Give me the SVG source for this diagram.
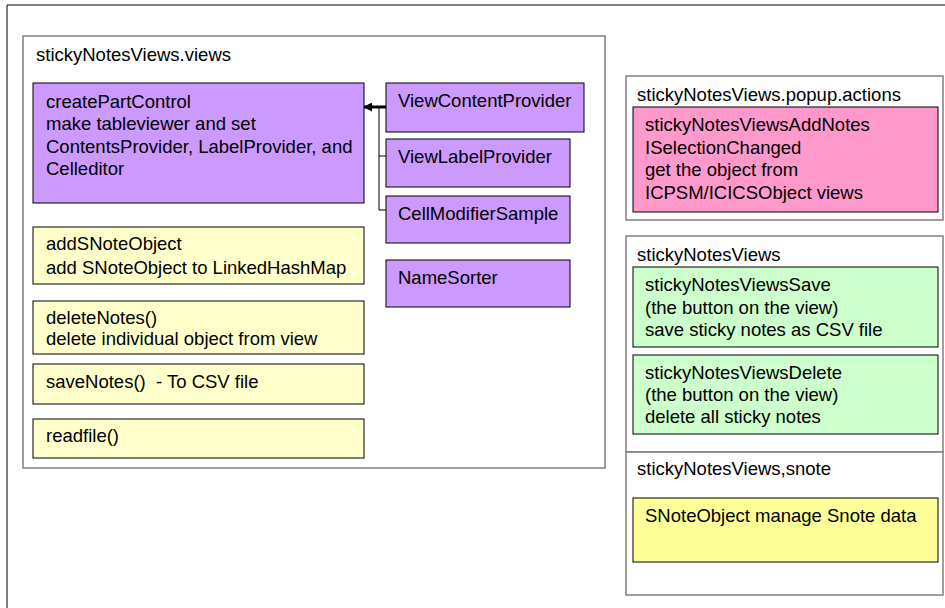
<svg xmlns="http://www.w3.org/2000/svg" width="945" height="608" viewBox="0 0 945 608">
<style>
text{font-family:"Liberation Sans",Arial,sans-serif;font-size:18.5px;fill:#000}
.frame{fill:#fff;stroke:#808080;stroke-width:1.5}
.pur{fill:#CC99FF;stroke:#000;stroke-width:1}
.yel{fill:#FFFFCC;stroke:#000;stroke-width:1}
.yel2{fill:#FFFF99;stroke:#000;stroke-width:1}
.pink{fill:#FF99CC;stroke:#000;stroke-width:1}
.grn{fill:#CCFFCC;stroke:#000;stroke-width:1}
.conn{fill:none;stroke:#000;stroke-width:1}
</style>
<defs>
<marker id="ah" viewBox="0 0 10 10" refX="9" refY="5" markerWidth="3" markerHeight="3" orient="auto"><path d="M0,0 L10,5 L0,10 z" fill="#000"/></marker>
</defs>
<rect width="945" height="608" fill="#fff"/>
<path d="M7,608 V5 H945" fill="none" stroke="#000" stroke-width="1"/>

<g id="views">
<rect class="frame" x="23" y="36" width="582" height="432"/>
<text x="36" y="61">stickyNotesViews.views</text>
</g>
<g id="createPartControl">
<rect class="pur" x="33" y="83" width="331" height="120"/>
<text x="46" y="108">createPartControl</text>
<text x="46" y="130">make tableviewer and set</text>
<text x="46" y="153">ContentsProvider, LabelProvider, and</text>
<text x="46" y="175">Celleditor</text>
</g>
<g id="viewContentProvider">
<rect class="pur" x="386" y="83" width="198" height="49"/>
<text x="398" y="107">ViewContentProvider</text>
</g>
<g id="viewLabelProvider">
<rect class="pur" x="386" y="139" width="184" height="48"/>
<text x="398" y="163">ViewLabelProvider</text>
</g>
<g id="cellModifierSample">
<rect class="pur" x="386" y="196" width="184" height="47"/>
<text x="398" y="220">CellModifierSample</text>
</g>
<g id="nameSorter">
<rect class="pur" x="386" y="260" width="184" height="47"/>
<text x="398" y="284">NameSorter</text>
</g>
<g id="addSNoteObject">
<rect class="yel" x="33" y="227" width="331" height="57"/>
<text x="46" y="250">addSNoteObject</text>
<text x="46" y="274">add SNoteObject to LinkedHashMap</text>
</g>
<g id="deleteNotes">
<rect class="yel" x="33" y="301" width="331" height="53"/>
<text x="46" y="324">deleteNotes()</text>
<text x="46" y="345">delete individual object from view</text>
</g>
<g id="saveNotes">
<rect class="yel" x="33" y="364" width="331" height="40"/>
<text x="46" y="388" xml:space="preserve">saveNotes()  - To CSV file</text>
</g>
<g id="readfile">
<rect class="yel" x="33" y="419" width="331" height="39"/>
<text x="46" y="442">readfile()</text>
</g>

<g id="popupActions">
<rect class="frame" x="626" y="76" width="317" height="144"/>
<text x="637" y="101">stickyNotesViews.popup.actions</text>
</g>
<g id="addNotes">
<rect class="pink" x="633" y="107" width="305" height="105"/>
<text x="645" y="131">stickyNotesViewsAddNotes</text>
<text x="645" y="154">ISelectionChanged</text>
<text x="645" y="176">get the object from</text>
<text x="645" y="199">ICPSM/ICICSObject views</text>
</g>
<g id="stickyNotesViews">
<rect class="frame" x="626" y="236" width="317" height="216"/>
<text x="637" y="261">stickyNotesViews</text>
</g>
<g id="viewsSave">
<rect class="grn" x="633" y="267" width="305" height="80"/>
<text x="645" y="291">stickyNotesViewsSave</text>
<text x="645" y="314">(the button on the view)</text>
<text x="645" y="336">save sticky notes as CSV file</text>
</g>
<g id="viewsDelete">
<rect class="grn" x="633" y="355" width="305" height="79"/>
<text x="645" y="379">stickyNotesViewsDelete</text>
<text x="645" y="401">(the button on the view)</text>
<text x="645" y="423">delete all sticky notes</text>
</g>
<g id="snote">
<rect class="frame" x="626" y="452" width="317" height="143"/>
<text x="637" y="475">stickyNotesViews,snote</text>
</g>
<g id="sNoteObject">
<rect class="yel2" x="633" y="498" width="305" height="64"/>
<text x="645" y="522">SNoteObject manage Snote data</text>
</g>

<g id="connectors">
<path class="conn" d="M379,107 V210 H386 M379,156 H386" stroke="#444"/>
<line x1="386" y1="107" x2="364" y2="107" stroke="#000" stroke-width="3" marker-end="url(#ah)"/>
</g>
</svg>
